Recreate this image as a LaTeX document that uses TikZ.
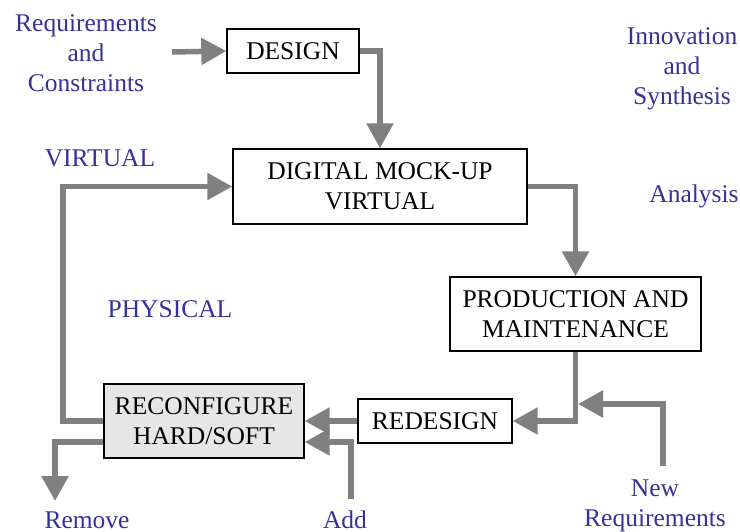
\documentclass[tikz,border=0pt]{standalone}
\usepackage{fontspec}
\setmainfont{Liberation Serif}
\usetikzlibrary{arrows.meta}
\definecolor{flowgray}{RGB}{128,128,128}
\definecolor{labelblue}{RGB}{51,51,153}
\definecolor{boxfill}{RGB}{230,230,230}
\tikzset{
  stagebox/.style={draw=black, line width=1.4pt, fill=white, align=center,
    inner sep=0pt, font=\fontsize{25.5}{30}\selectfont},
  sidelabel/.style={text=labelblue, align=center, inner sep=0pt,
    font=\fontsize{25.5}{30}\selectfont},
  flow/.style={draw=flowgray, line width=5.5pt,
    -{Triangle[width=26pt,length=25pt]}},
}
\begin{document}
\begin{tikzpicture}[x=1pt,y=-1pt]
\useasboundingbox (0,0) rectangle (740,532);

% process stages
\node[stagebox, minimum width=132pt, minimum height=44pt] (design) at (293,51) {DESIGN};
\node[stagebox, minimum width=294pt, minimum height=75pt] (dmu) at (380,186.5) {DIGITAL MOCK-UP\\VIRTUAL};
\node[stagebox, minimum width=251pt, minimum height=74pt] (prod) at (575.5,314) {PRODUCTION AND\\MAINTENANCE};
\node[stagebox, minimum width=154pt, minimum height=44pt] (redesign) at (435,421) {REDESIGN};
\node[stagebox, fill=boxfill, minimum width=200pt, minimum height=74pt] (reconf) at (204,421) {RECONFIGURE\\HARD/SOFT};

% side labels
\node[sidelabel] (req) at (86,53) {Requirements\\and\\Constraints};
\node[sidelabel] (innov) at (682,69) {Innovation\\and\\Synthesis};
\node[sidelabel, anchor=base] (analysis) at (694,203) {Analysis};
\node[sidelabel, anchor=base] (virtual) at (100,167) {VIRTUAL};
\node[sidelabel, anchor=base] (physical) at (170,317) {PHYSICAL};
\node[sidelabel, anchor=base] (remove) at (87,528) {Remove};
\node[sidelabel, anchor=base] (add) at (345,528) {Add};
\node[sidelabel] (newreq) at (655,506) {New\\Requirements};

% free ends of the connectors
\coordinate (reqstart) at (172,52);
\coordinate (newstart) at (663,466);
\coordinate (junction) at (578,404);
\coordinate (addstart) at (351,499);
\coordinate (removeend) at (55,501);
\coordinate (loopx) at (63,300);

% connectors
\draw[flow] (reqstart) -- (design.west);
\draw[flow] (design.east) -| (dmu.north);
\draw[flow] (dmu.east) -| (prod.north);
\draw[flow] (prod.south) |- (redesign.east);
\draw[flow] (newstart) |- (junction);
\draw[flow] (redesign.west) -- (reconf.east);
\draw[flow] (addstart) |- ([yshift=-21pt]reconf.east);
\draw[flow] ([yshift=-21pt]reconf.west) -| (removeend);
\draw[flow] (reconf.west) -| (loopx) |- (dmu.west);
\end{tikzpicture}
\end{document}
